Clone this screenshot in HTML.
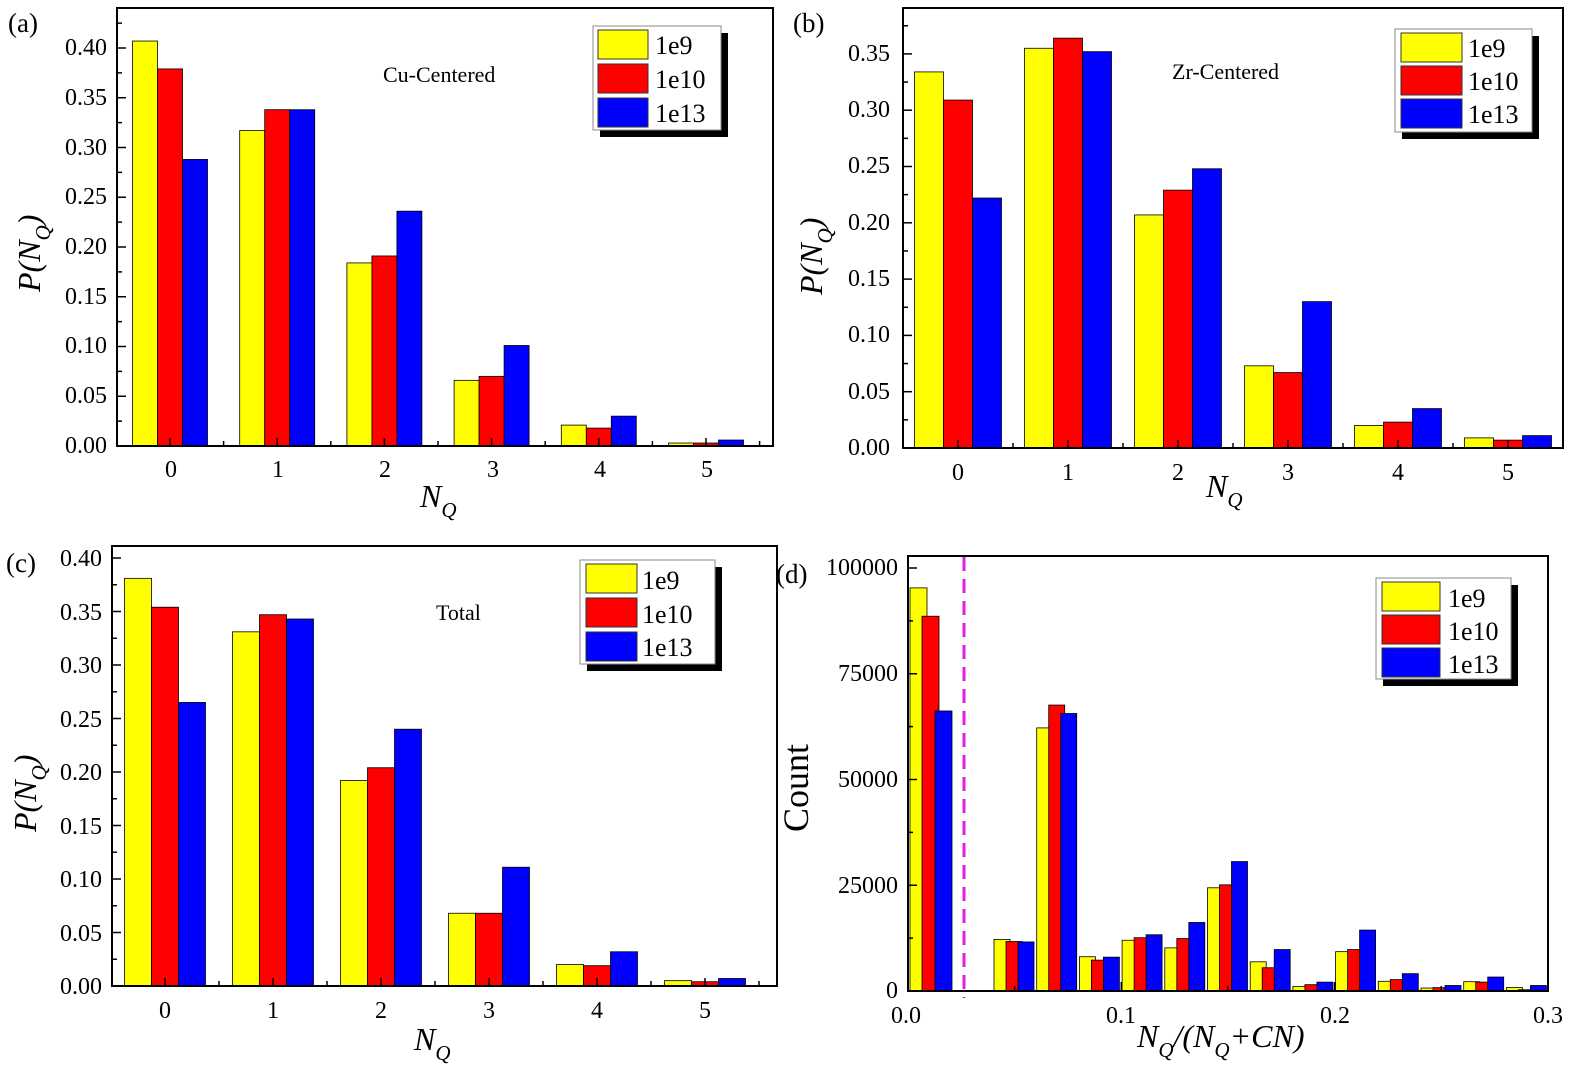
<!DOCTYPE html>
<html><head><meta charset="utf-8"><style>
html,body{margin:0;padding:0;background:#fff;}
svg{display:block;}
</style></head><body>
<svg id="s" width="1575" height="1079" viewBox="0 0 1575 1079" xmlns="http://www.w3.org/2000/svg" style="font-family:'Liberation Serif',serif">
<g id="bars"></g>
<rect x="117" y="8" width="656" height="438" fill="none" stroke="#000" stroke-width="2"/>
<rect x="903" y="8" width="660" height="440" fill="none" stroke="#000" stroke-width="2"/>
<rect x="112" y="546" width="665" height="440" fill="none" stroke="#000" stroke-width="2"/>
<rect x="908" y="556" width="640" height="435" fill="none" stroke="#000" stroke-width="2"/>
<g id="ticks"></g>
<line x1="964" y1="557" x2="964" y2="998" stroke="#e020e0" stroke-width="3" stroke-dasharray="14,8"/>
<g style="font-family:'Liberation Serif',serif;font-size:27px">
<text x="8" y="32">(a)</text>
<text x="793" y="32">(b)</text>
<text x="6" y="572">(c)</text>
<text x="776" y="583">(d)</text>
</g>
<g style="font-family:'Liberation Serif',serif;font-size:22px">
<text x="383" y="82">Cu-Centered</text>
<text x="1172" y="79">Zr-Centered</text>
<text x="436" y="620">Total</text>
</g>
<g style="font-family:'Liberation Serif',serif;font-size:24px" text-anchor="end">
<text x="107" y="453">0.00</text><text x="107" y="403">0.05</text><text x="107" y="353">0.10</text><text x="107" y="304">0.15</text><text x="107" y="254">0.20</text><text x="107" y="204">0.25</text><text x="107" y="155">0.30</text><text x="107" y="105">0.35</text><text x="107" y="55">0.40</text>
<text x="890" y="455">0.00</text><text x="890" y="399">0.05</text><text x="890" y="342">0.10</text><text x="890" y="286">0.15</text><text x="890" y="230">0.20</text><text x="890" y="173">0.25</text><text x="890" y="117">0.30</text><text x="890" y="61">0.35</text>
<text x="102" y="994">0.00</text><text x="102" y="941">0.05</text><text x="102" y="887">0.10</text><text x="102" y="834">0.15</text><text x="102" y="780">0.20</text><text x="102" y="727">0.25</text><text x="102" y="673">0.30</text><text x="102" y="620">0.35</text><text x="102" y="566">0.40</text>
<text x="898" y="998">0</text><text x="898" y="893">25000</text><text x="898" y="787">50000</text><text x="898" y="681">75000</text><text x="898" y="575">100000</text>
</g>
<g style="font-family:'Liberation Serif',serif;font-size:24px" text-anchor="middle">
<text x="171" y="477">0</text><text x="278" y="477">1</text><text x="385" y="477">2</text><text x="493" y="477">3</text><text x="600" y="477">4</text><text x="707" y="477">5</text>
<text x="958" y="480">0</text><text x="1068" y="480">1</text><text x="1178" y="480">2</text><text x="1288" y="480">3</text><text x="1398" y="480">4</text><text x="1508" y="480">5</text>
<text x="165" y="1018">0</text><text x="273" y="1018">1</text><text x="381" y="1018">2</text><text x="489" y="1018">3</text><text x="597" y="1018">4</text><text x="705" y="1018">5</text>
<text x="906" y="1023">0.0</text><text x="1121" y="1023">0.1</text><text x="1335" y="1023">0.2</text><text x="1548" y="1023">0.3</text>
</g>
<g style="font-family:'Liberation Serif',serif;font-size:32px;font-style:italic">
<text x="420" y="507">N<tspan font-size="21" dy="10">Q</tspan></text>
<text x="1206" y="497">N<tspan font-size="21" dy="10">Q</tspan></text>
<text x="414" y="1050">N<tspan font-size="21" dy="10">Q</tspan></text>
<text x="1137" y="1047">N<tspan font-size="21" dy="10">Q</tspan><tspan dy="-10">/(N</tspan><tspan font-size="21" dy="10">Q</tspan><tspan dy="-10">+CN)</tspan></text>
<text transform="translate(40,292) rotate(-90)">P(N<tspan font-size="21" dy="10">Q</tspan><tspan dy="-10">)</tspan></text>
<text transform="translate(822,295) rotate(-90)">P(N<tspan font-size="21" dy="10">Q</tspan><tspan dy="-10">)</tspan></text>
<text transform="translate(36,832) rotate(-90)">P(N<tspan font-size="21" dy="10">Q</tspan><tspan dy="-10">)</tspan></text>
</g>
<text transform="translate(808,832) rotate(-90)" style="font-family:'Liberation Serif',serif;font-size:36px">Count</text>
<g id="leg"></g>
<g style="font-family:'Liberation Serif',serif;font-size:26px">
<text x="655" y="54">1e9</text><text x="655" y="88">1e10</text><text x="655" y="122">1e13</text>
<text x="1468" y="57">1e9</text><text x="1468" y="90">1e10</text><text x="1468" y="123">1e13</text>
<text x="642" y="589">1e9</text><text x="642" y="623">1e10</text><text x="642" y="656">1e13</text>
<text x="1448" y="607">1e9</text><text x="1448" y="640">1e10</text><text x="1448" y="673">1e13</text>
</g>
</svg>
<script>
var NS="http://www.w3.org/2000/svg",C=["#ffff00","#ff0000","#0000ff"];
function el(p,n,a){var e=document.createElementNS(NS,n);for(var k in a)e.setAttribute(k,a[k]);document.getElementById(p).appendChild(e);}
function rect(x,y,w,h,f){el("bars","rect",{x:x,y:y,width:w,height:h,fill:f,stroke:"#000","stroke-width":0.8});}
var P=[
{z:446,u:995,c0:170,sp:107.2,bw:25,v:[[.407,.379,.288],[.317,.338,.338],[.184,.191,.236],[.066,.070,.101],[.021,.018,.030],[.003,.003,.006]]},
{z:448,u:1126,c0:958,sp:110,bw:29,v:[[.334,.309,.222],[.355,.364,.352],[.207,.229,.248],[.073,.067,.130],[.020,.023,.035],[.009,.007,.011]]},
{z:986,u:1070,c0:165,sp:108,bw:27,v:[[.381,.354,.265],[.331,.347,.343],[.192,.204,.240],[.068,.068,.111],[.020,.019,.032],[.005,.004,.007]]}];
P.forEach(function(p){var bw=p.bw;p.v.forEach(function(g,i){var c=p.c0+i*p.sp;g.forEach(function(v,j){var x=c-1.5*bw+j*bw;rect(x,p.z-v*p.u,bw,v*p.u,C[j]);});});});
var D=[[95.3,88.6,66.2],[12.2,11.7,11.6],[62.2,67.6,65.6],[8.1,7.3,8.0],[12.0,12.6,13.3],[10.2,12.4,16.2],[24.4,25.1,30.6],[6.9,5.5,9.8],[1.1,1.5,2.1],[9.3,9.8,14.4],[2.3,2.7,4.1],[0.7,0.8,1.3],[2.2,2.1,3.3],[0.8,0.3,1.3]];
D.forEach(function(g,i){var c=i==0?931:1016+(i-1)*42.7;var L=i==0?[910,922,935]:[c-22,c-10,c+2];var W=i==0?17:16;
g.forEach(function(v,j){rect(L[j],991-v*4.23,W,v*4.23,C[j]);});});
function tk(x1,y1,x2,y2){el("ticks","line",{x1:x1,y1:y1,x2:x2,y2:y2,stroke:"#000","stroke-width":1.5});}
[[117,446,995,0.025,0.44],[903,448,1126,0.025,0.385],[112,986,1070,0.025,0.41]].forEach(function(a){for(var v=0,i=0;v<=a[4];v+=a[3],i++){var y=a[1]-v*a[2];tk(a[0],y,a[0]+(i%2?5:9),y);}});
for(var v=0,i=0;v<=101;v+=12.5,i++){var y=991-v*4.23;tk(908,y,908+(i%2?5:9),y);}
P.forEach(function(p,k){var fx=[[117,773],[903,1563],[112,777]][k];for(var i=-0.5;i<6;i+=0.5){var x=p.c0+i*p.sp;if(x>fx[0]&&x<fx[1])tk(x,p.z,x,p.z-(i%1?5:8));}});
for(var v=0;v<=0.3;v+=0.05){var x=908+v*2133;tk(x,991,x,991-(Math.round(v*100)%10?5:9));}
function leg(x,y,w,h,sx,sy,sw,sh,gap){el("leg","rect",{x:x+7,y:y+7,width:w,height:h,fill:"#000"});el("leg","rect",{x:x,y:y,width:w,height:h,fill:"#fff",stroke:"#888","stroke-width":1});for(var j=0;j<3;j++)el("leg","rect",{x:sx,y:sy+j*gap,width:sw,height:sh,fill:C[j],stroke:"#333","stroke-width":1});}
leg(593,26,128,104,598,30,50,29,34);
leg(1395,29,137,103,1401,33,61,29,33);
leg(580,560,135,104,586,564,51,29,34);
leg(1376,578,135,101,1382,582,58,29,33);
</script>
</body></html>
